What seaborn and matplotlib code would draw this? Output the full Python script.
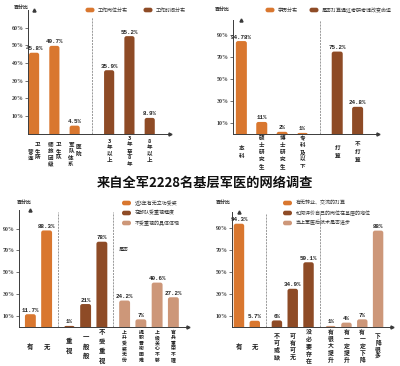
import matplotlib
matplotlib.use("Agg")
import matplotlib.pyplot as plt
import seaborn as sns
import pandas as pd
from matplotlib.patches import FancyBboxPatch, Rectangle
from matplotlib.transforms import IdentityTransform

# ---------------- data ----------------
title = "来自全军2228名基层军医的网络调查"
ylabel_text = "百分比"

p1_post_labels = ["营连/卫生所", "师旅团级/卫生队", "军队体系/医院"]
p1_post_values = [45.8, 49.7, 4.5]
p1_time_labels = ["3年以上", "3年至8年", "8年以上"]
p1_time_values = [35.9, 55.2, 8.9]
p1_legend = ["工作岗位分布", "工作时间分布"]
p1_ticks = [10, 20, 30, 40, 50, 60]

p2_edu_labels = ["本科", "硕士研究生", "博士研究生", "专科及以下"]
p2_edu_values = [84.78, 11, 2, 1]
p2_plan_labels = ["打算", "不打算"]
p2_plan_values = [75.2, 24.8]
p2_legend = ["学历分布", "是否打算通过考研考博改变命运"]

odd_ticks = [10, 30, 50, 70, 90]

p3_award_labels = ["有", "无"]
p3_award_values = [11.7, 88.3]
p3_value_labels = ["重视", "一般般", "不受重视"]
p3_value_values = [1, 21, 78]
p3_detail_labels = ["上升受奖无份", "提职晋衔困难", "上级关心不够", "官兵重荣不理"]
p3_detail_values = [24.2, 7, 40.6, 27.2]
p3_legend = ["近3年有无立功受奖", "在部队受重视程度", "不受重视的具体体现"]
p3_note = "是否"

p4_transfer_labels = ["有", "无"]
p4_transfer_values = [94.3, 5.7]
p4_status_labels = ["不可或缺", "可有可无", "没必要存在"]
p4_status_values = [6, 34.9, 59.1]
p4_skill_labels = ["有很大提升", "有一定提升", "有一定下降", "下降很多"]
p4_skill_values = [1, 4, 7, 88]
p4_legend = ["有无转业、交流的打算", "如何评价自己的岗位在基层的地位", "当上军医后技术是否进步"]

ORANGE = "#D9772F"
BROWN = "#8E4B26"
TAN = "#CD9779"
AXC = "#3a3a3a"

# ---------------- setup ----------------
sns.set_theme(style="white")
plt.rcParams["font.family"] = ["Noto Sans CJK SC", "DejaVu Sans"]

W, H = 400, 366
fig = plt.figure(figsize=(W / 100, H / 100), dpi=100)
fig.patch.set_facecolor("white")
PIX = IdentityTransform()


def fx(px):
    return px / W


def fy(py):
    return 1 - py / H


def legend_item(x, y, color, text, fs=3.6):
    fig.add_artist(FancyBboxPatch((x - 4.5, H - y - 2.3), 9, 4.6,
                                  boxstyle="round,pad=0,rounding_size=2.2",
                                  transform=PIX, facecolor=color, edgecolor="none"))
    fig.text(fx(x + 8), fy(y), text, fontsize=fs, va="center", ha="left", color="#333333")


def vertical_label(ax, x, text, center_px, fs, pitch, colpx=7.5, stagger=0.0):
    """Draw a vertical (top-to-bottom) label; '/' separates columns (left to right)."""
    cols = text.split("/")
    n = len(cols)
    for ci, col in enumerate(cols):
        dx = (ci - (n - 1) / 2) * colpx
        shift = stagger if (n > 1 and ci == 0) else 0.0
        m = len(col)
        for k, ch in enumerate(col):
            dy = center_px + shift + (k - (m - 1) / 2) * pitch
            ax.annotate(ch, xy=(x, 0), xycoords=("data", "axes fraction"),
                        xytext=(dx, -dy), textcoords="offset pixels",
                        ha="center", va="center", fontsize=fs, fontweight="bold",
                        color="#1e1e1e")


def round_tops(ax, box, xlim, ylim, radius_px=2.2):
    left, right, bottom, top = box
    xpp = (xlim[1] - xlim[0]) / (right - left)     # data-x per pixel
    ypp = (ylim[1] - ylim[0]) / (bottom - top)     # data-y per pixel
    r = radius_px * xpp
    aspect = ypp / xpp
    for p in list(ax.patches):
        if not isinstance(p, Rectangle):
            continue
        x, y, w, h = p.get_x(), p.get_y(), p.get_width(), p.get_height()
        fc = p.get_facecolor()
        p.remove()
        ext = radius_px * ypp * 1.5
        ax.add_patch(FancyBboxPatch((x, y - ext), w, h + ext,
                                    boxstyle=f"round,pad=0,rounding_size={r}",
                                    mutation_aspect=aspect, facecolor=fc,
                                    edgecolor="none", clip_on=True, zorder=2))


def panel(box, groups, colors, xlim, ylim, ticks, width, gap, styles, sep_top=1.0,
          label_center=17):
    left, right, bottom, top = box
    ax = fig.add_axes([fx(left), fy(bottom), (right - left) / W, (bottom - top) / H])
    rows, seps = [], []
    pos = 0.0
    for gi, (labels, values) in enumerate(groups):
        if gi > 0:
            seps.append(pos - 1 + gap / 2)
            pos += gap - 1
        for lab, val in zip(labels, values):
            rows.append({"pos": pos, "value": val, "grp": f"g{gi}", "label": lab, "gi": gi})
            pos += 1
    df = pd.DataFrame(rows)
    sns.barplot(data=df, x="pos", y="value", hue="grp", palette=colors[:len(groups)],
                native_scale=True, width=width, dodge=False, legend=False,
                errorbar=None, saturation=1, ax=ax)
    ax.set_xlim(*xlim)
    ax.set_ylim(*ylim)
    round_tops(ax, box, xlim, ylim)
    ax.set_xlabel("")
    ax.set_ylabel("")
    ax.set_facecolor("none")
    for s in ["top", "right"]:
        ax.spines[s].set_visible(False)
    for s in ["left", "bottom"]:
        ax.spines[s].set_color(AXC)
        ax.spines[s].set_linewidth(0.7)
        ax.spines[s].set_zorder(3)
    ax.set_xticks([])
    ax.set_yticks(ticks)
    ax.set_yticklabels([f"{t}%" for t in ticks], family=["Liberation Serif"],
                       fontweight="bold")
    ax.tick_params(axis="y", length=2, width=0.5, labelsize=4.2, pad=1,
                   colors=AXC, left=True)
    ax.plot(1, 0, ">", color=AXC, ms=2.2, transform=ax.get_yaxis_transform(),
            clip_on=False)
    ax.plot(0, 1, "^", color=AXC, ms=2.2, transform=ax.get_xaxis_transform(),
            clip_on=False)
    for s in seps:
        ax.axvline(s, ymin=0, ymax=sep_top, color="#8a8a8a", lw=0.6,
                   ls=(0, (2.5, 1.2)))
    for _, r in df.iterrows():
        ax.annotate(f"{r['value']:g}%", xy=(r["pos"], r["value"]),
                    xytext=(0, 1.5), textcoords="offset pixels", ha="center",
                    va="bottom", fontsize=4.2, family=["Liberation Mono"],
                    fontweight="bold", color="#222222")
        fs, pitch, stagger = styles[int(r["gi"])]
        vertical_label(ax, r["pos"], r["label"], label_center, fs, pitch,
                       stagger=stagger)
    return ax


# ---------------- panel 1 ----------------
ax1 = panel((28, 170, 133.6, 10),
            [(p1_post_labels, p1_post_values), (p1_time_labels, p1_time_values)],
            [ORANGE, BROWN], (-0.3, 6.7), (0, 70), p1_ticks, 0.5, 1.7,
            [(4.0, 6.5, 4.0), (4.0, 6.5, 0.0)], sep_top=0.94, label_center=17.5)
fig.text(fx(14), fy(7), ylabel_text, fontsize=3.6, fontweight="bold", va="center")
legend_item(90, 10, ORANGE, p1_legend[0])
legend_item(148, 10, BROWN, p1_legend[1])

# ---------------- panel 2 ----------------
ax2 = panel((233, 378, 134, 20),
            [(p2_edu_labels, p2_edu_values), (p2_plan_labels, p2_plan_values)],
            [ORANGE, BROWN], (-0.41, 6.7), (0, 104), odd_ticks, 0.54, 1.7,
            [(4.0, 7.0, 0.0), (4.0, 7.5, 0.0)], sep_top=1.0, label_center=18.5)
fig.text(fx(215), fy(9), ylabel_text, fontsize=3.6, fontweight="bold", va="center")
legend_item(270, 10, ORANGE, p2_legend[0])
legend_item(314, 10, BROWN, p2_legend[1])

# ---------------- title ----------------
fig.text(fx(205), fy(183), title, fontsize=9.5, fontweight="bold", ha="center",
         va="center", color="#111111")

# ---------------- panel 3 ----------------
ax3 = panel((19, 188, 327, 210),
            [(p3_award_labels, p3_award_values), (p3_value_labels, p3_value_values),
             (p3_detail_labels, p3_detail_values)],
            [ORANGE, BROWN, TAN], (-0.7, 9.7), (0, 107), odd_ticks, 0.67, 1.4,
            [(4.6, 7.0, 0.0), (4.6, 9.5, 0.0), (3.5, 5.6, 0.0)], sep_top=0.98,
            label_center=19)
fig.text(fx(17), fy(202), ylabel_text, fontsize=3.6, fontweight="bold", va="center")
fig.text(fx(119), fy(249), p3_note, fontsize=3.6, va="center")
for i, c in enumerate([ORANGE, BROWN, TAN]):
    legend_item(126.5, 203 + 10 * i, c, p3_legend[i])

# ---------------- panel 4 ----------------
ax4 = panel((231.7, 392, 327, 212),
            [(p4_transfer_labels, p4_transfer_values), (p4_status_labels, p4_status_values),
             (p4_skill_labels, p4_skill_values)],
            [ORANGE, BROWN, TAN], (-0.46, 9.68), (0, 105), odd_ticks, 0.66, 1.4,
            [(4.6, 7.0, 0.0), (4.3, 7.3, 0.0), (4.2, 6.8, 0.0)], sep_top=0.98,
            label_center=19)
fig.text(fx(216), fy(202), ylabel_text, fontsize=3.6, fontweight="bold", va="center")
for i, c in enumerate([ORANGE, BROWN, TAN]):
    legend_item(287.5, 203 + 10 * i, c, p4_legend[i])

fig.savefig("out.png", dpi=100, facecolor="white")
